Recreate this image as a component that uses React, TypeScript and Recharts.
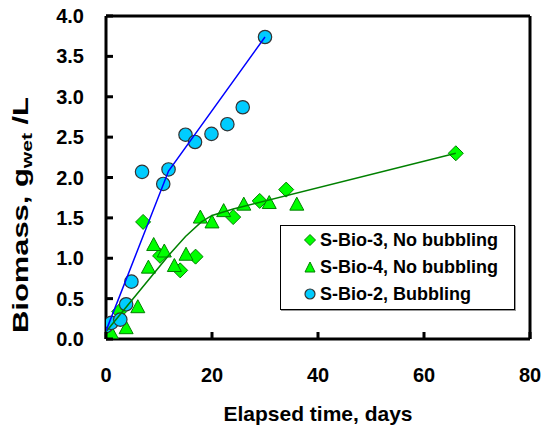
import React from 'react';
import { ComposedChart, Scatter, XAxis, YAxis, ReferenceLine, Legend } from 'recharts';

// S-Bio-3, No bubbling (diamonds)
const bio3Days = [0, 2.5, 7, 10.2, 14, 16.9, 24, 29, 34, 66];
const bio3Mass = [0.08, 0.34, 1.45, 1.03, 0.85, 1.02, 1.51, 1.71, 1.85, 2.3];
// S-Bio-4, No bubbling (triangles)
const bio4Days = [0, 1, 3.8, 6, 8, 9, 11, 12.9, 15.1, 17.8, 20, 22.2, 26, 30.8, 36];
const bio4Mass = [0.11, 0.07, 0.13, 0.39, 0.88, 1.16, 1.08, 0.9, 1.04, 1.5, 1.44, 1.58, 1.66, 1.68, 1.66];
// S-Bio-2, Bubbling (circles)
const bio2Days = [0, 1, 2.7, 3.8, 4.8, 6.8, 10.8, 11.8, 15, 16.8, 19.9, 22.9, 25.8, 30];
const bio2Mass = [0.16, 0.2, 0.24, 0.43, 0.71, 2.07, 1.92, 2.1, 2.53, 2.44, 2.54, 2.66, 2.87, 3.74];
// fitted curves
const blueFitDays = [0, 11.8, 30];
const blueFitMass = [0.1, 2.08, 3.74];
const greenFitDays = [0, 12, 15, 18, 20, 24, 66];
const greenFitMass = [0.09, 1.05, 1.27, 1.45, 1.53, 1.61, 2.3];

const xTicks = [0, 20, 40, 60, 80];
const yTicks = [0, 0.5, 1, 1.5, 2, 2.5, 3, 3.5, 4];

const zip = (xs: number[], ys: number[]) => xs.map((x, i) => ({ x, y: ys[i] }));
const bio3 = zip(bio3Days, bio3Mass);
const bio4 = zip(bio4Days, bio4Mass);
const bio2 = zip(bio2Days, bio2Mass);
const blueFit = zip(blueFitDays, blueFitMass);
const greenFit = zip(greenFitDays, greenFitMass);

const FONT = "'Liberation Sans', Arial, sans-serif";
const GREEN_FILL = '#00FF00';
const GREEN_STROKE = '#008000';
const CYAN = '#00CCFF';

const Diamond = ({ cx, cy, r = 7.5 }: any) => (
  <path d={`M${cx},${cy - r}L${cx + r},${cy}L${cx},${cy + r}L${cx - r},${cy}Z`} fill={GREEN_FILL} stroke={GREEN_STROKE} strokeWidth={1} />
);
const Triangle = ({ cx, cy, w = 14, h = 13 }: any) => (
  <path d={`M${cx},${cy - h * 0.6}L${cx + w / 2},${cy + h * 0.4}L${cx - w / 2},${cy + h * 0.4}Z`} fill={GREEN_FILL} stroke={GREEN_STROKE} strokeWidth={1} />
);
const Circle = ({ cx, cy, r = 6.7 }: any) => (
  <circle cx={cx} cy={cy} r={r} fill={CYAN} stroke="#333333" strokeWidth={1.2} />
);
const Empty = () => <g />;

const XTick = ({ x, y, payload }: any) => (
  <g>
    <line x1={x} x2={x} y1={y} y2={y - 7} stroke="#000" strokeWidth={3} />
    <text x={x} y={y + 36} textAnchor="middle" dominantBaseline="central" fontFamily={FONT} fontWeight="bold" fontSize={20} fill="#000">
      {payload.value}
    </text>
  </g>
);
const YTick = ({ x, y, payload }: any) => (
  <g>
    <line x1={x} x2={x + 7} y1={y} y2={y} stroke="#000" strokeWidth={3} />
    <text x={x - 22} y={y} textAnchor="end" dominantBaseline="central" fontFamily={FONT} fontWeight="bold" fontSize={20} fill="#000">
      {Number(payload.value).toFixed(1)}
    </text>
  </g>
);

const legendRows = [
  { name: 'S-Bio-3, No bubbling', kind: 'diamond' },
  { name: 'S-Bio-4, No bubbling', kind: 'triangle' },
  { name: 'S-Bio-2, Bubbling', kind: 'circle' },
];

const renderLegend = () => (
  <div
    style={{
      width: 235,
      height: 85,
      border: '1px solid #000',
      boxSizing: 'border-box',
      background: '#fff',
      boxShadow: '1px 1px 0 #999',
      position: 'relative',
      fontFamily: FONT,
      fontWeight: 'bold',
      fontSize: 18,
      color: '#000',
    }}
  >
    {legendRows.map((r, i) => (
      <div key={r.name} style={{ position: 'absolute', left: 0, top: 14 + i * 27 - 11, height: 22, width: '100%' }}>
        <svg width={20} height={22} style={{ position: 'absolute', left: 19, top: 0 }}>
          {r.kind === 'diamond' && <Diamond cx={10} cy={11} r={5.5} />}
          {r.kind === 'triangle' && <Triangle cx={10} cy={12} w={10} h={10} />}
          {r.kind === 'circle' && <Circle cx={10} cy={11} r={5} />}
        </svg>
        <span style={{ position: 'absolute', left: 39, top: 0, lineHeight: '22px', whiteSpace: 'nowrap' }}>{r.name}</span>
      </div>
    ))}
  </div>
);

export default function App() {
  return (
    <div style={{ position: 'absolute', left: 0, top: 0, width: 545, height: 432, background: '#fff' }}>
      <ComposedChart width={545} height={432} margin={{ top: 16, right: 15, bottom: 33, left: 46 }}>
        <XAxis
          type="number"
          dataKey="x"
          domain={[0, 80]}
          ticks={xTicks}
          allowDataOverflow
          axisLine={{ stroke: '#000', strokeWidth: 3 }}
          tickLine={false}
          tickSize={0}
          tickMargin={0}
          tick={<XTick />}
          height={60}
          label={{
            content: () => (
              <text x={318} y={413} textAnchor="middle" dominantBaseline="central" fontFamily={FONT} fontWeight="bold" fontSize={21} fill="#000">
                Elapsed time, days
              </text>
            ),
          }}
        />
        <YAxis
          type="number"
          dataKey="y"
          domain={[0, 4]}
          ticks={yTicks}
          allowDataOverflow
          axisLine={{ stroke: '#000', strokeWidth: 3 }}
          tickLine={false}
          tickSize={0}
          tickMargin={0}
          tick={<YTick />}
          width={60}
          label={{
            content: () => (
              <text
                transform="rotate(-90, 28, 215)"
                x={28}
                y={215}
                textAnchor="middle"
                textLength={236}
                lengthAdjust="spacingAndGlyphs"
                fontFamily={FONT}
                fontWeight="bold"
                fontSize={22}
                fill="#000"
              >
                Biomass, g
                <tspan fontSize={15} dy={4}>wet</tspan>
                <tspan dy={-4}> /L</tspan>
              </text>
            ),
          }}
        />
        <ReferenceLine y={4} stroke="#000" strokeWidth={3} />
        <ReferenceLine x={80} stroke="#000" strokeWidth={3} />
        <Scatter name="S-Bio-3, No bubbling" data={bio3} shape={(p: any) => <Diamond cx={p.cx} cy={p.cy} />} isAnimationActive={false} />
        <Scatter name="S-Bio-4, No bubbling" data={bio4} shape={(p: any) => <Triangle cx={p.cx} cy={p.cy} />} isAnimationActive={false} />
        <Scatter name="S-Bio-2, Bubbling" data={bio2} shape={(p: any) => <Circle cx={p.cx} cy={p.cy} />} isAnimationActive={false} />
        <Scatter data={greenFit} line={{ stroke: GREEN_STROKE, strokeWidth: 1.5 }} shape={Empty} legendType="none" isAnimationActive={false} />
        <Scatter data={blueFit} line={{ stroke: '#0000FF', strokeWidth: 1.5 }} shape={Empty} legendType="none" isAnimationActive={false} />
        <Legend
          layout="vertical"
          align="center"
          verticalAlign="middle"
          content={renderLegend}
          wrapperStyle={{ left: 280, top: 225, width: 235, height: 85 }}
        />
      </ComposedChart>
    </div>
  );
}
